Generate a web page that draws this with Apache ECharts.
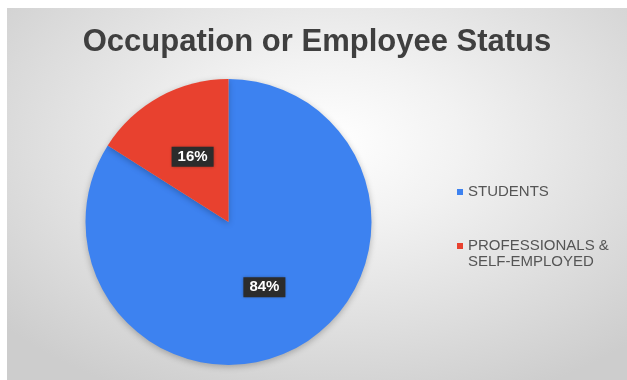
<!DOCTYPE html>
<html>
<head>
<meta charset="utf-8">
<script src="https://cdn.jsdelivr.net/npm/echarts@6/dist/echarts.min.js"></script>
<style>
  html, body { margin: 0; padding: 0; background: #ffffff; }
  #chart {
    position: absolute; left: 7px; top: 8px; width: 620px; height: 372px;
    background: radial-gradient(ellipse 70% 75% at 52% 36%, #ffffff 0%, #f2f2f2 30%, #dddddd 70%, #cdcdcd 100%);
  }
</style>
</head>
<body>
<div id="chart"></div>
<script>
// Occupation breakdown of respondents (percent)
const categories = ['STUDENTS', 'PROFESSIONALS & SELF-EMPLOYED'];
// a leading blank line keeps the wrapped entry's marker beside its first line
const legendLabels = ['STUDENTS', '\nPROFESSIONALS &\nSELF-EMPLOYED'];
const shares = [84, 16];
const colors = ['#3d82f0', '#e8412f'];

const FONT = 'Liberation Sans, Arial, sans-serif';
const chart = echarts.init(document.getElementById('chart'));
chart.setOption({
  backgroundColor: 'transparent',
  title: {
    text: 'Occupation or Employee Status',
    left: 'center',
    top: 14,
    textStyle: { fontFamily: FONT, fontSize: 31, fontWeight: 'bold', color: '#3f3f3f' }
  },
  legend: {
    orient: 'vertical',
    left: 445,
    top: 171,
    itemWidth: 6,
    itemHeight: 6,
    itemGap: 22,
    icon: 'rect',
    data: categories,
    formatter: name => legendLabels[categories.indexOf(name)],
    textStyle: { fontFamily: FONT, fontSize: 15, color: '#555555', lineHeight: 16 }
  },
  series: [{
    type: 'pie',
    center: [221.5, 214],
    radius: 143,
    startAngle: 90,
    clockwise: true,
    silent: true,
    color: colors,
    itemStyle: { shadowBlur: 6, shadowColor: 'rgba(0,0,0,0.25)', shadowOffsetY: 2 },
    label: {
      show: true,
      position: 'inside',
      formatter: p => p.value + '%',
      color: '#ffffff',
      fontFamily: FONT,
      fontWeight: 'bold',
      fontSize: 15,
      backgroundColor: '#2c2c2c',
      padding: [3, 6, 2, 6],
      shadowBlur: 3,
      shadowColor: 'rgba(0,0,0,0.4)'
    },
    labelLine: { show: false },
    data: categories.map((c, i) => ({ name: c, value: shares[i] }))
  }]
});
</script>
</body>
</html>
